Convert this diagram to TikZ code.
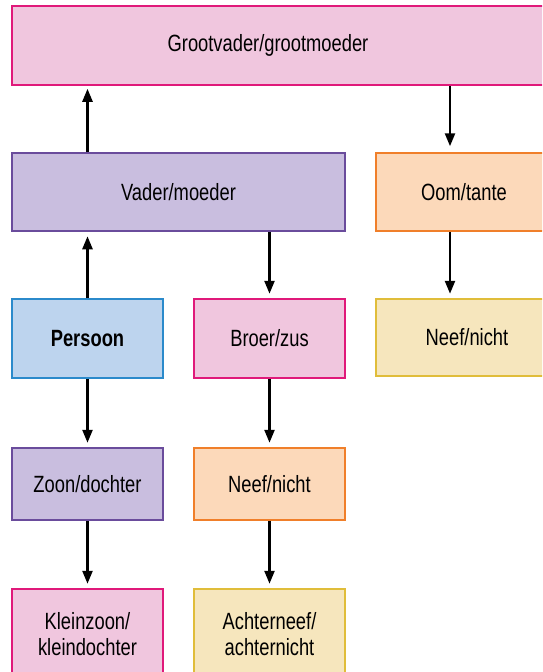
\documentclass[tikz,border=0pt]{standalone}
\usepackage{fontspec}
\setmainfont{Liberation Sans}[FakeStretch=0.78]
\usepackage{tikz}
\usepackage{xcolor}
\usetikzlibrary{arrows.meta}
\definecolor{pinkfill}{HTML}{F0C6DE}
\definecolor{pinkline}{HTML}{E0197A}
\definecolor{purplefill}{HTML}{C9BEDF}
\definecolor{purpleline}{HTML}{6A4C9C}
\definecolor{bluefill}{HTML}{BDD4EE}
\definecolor{blueline}{HTML}{2B8ACB}
\definecolor{orangefill}{HTML}{FCD9BA}
\definecolor{orangeline}{HTML}{F07F2A}
\definecolor{yellowfill}{HTML}{F6E6BD}
\definecolor{yellowline}{HTML}{E0BD3A}
\tikzset{
    family-box/.style = {rectangle, line width=1.5pt, inner sep=0pt, align=center, minimum width=151pt, minimum height=78pt, font=\fontsize{23.5}{26}\selectfont},
    pink-box/.style = {family-box, draw=pinkline, fill=pinkfill},
    purple-box/.style = {family-box, draw=purpleline, fill=purplefill},
    blue-box/.style = {family-box, draw=blueline, fill=bluefill},
    orange-box/.style = {family-box, draw=orangeline, fill=orangefill},
    yellow-box/.style = {family-box, draw=yellowline, fill=yellowfill},
    link/.style = {line width=2.4pt, -{Triangle[length=13pt, width=10pt]}, shorten >=4.5pt},
}
\begin{document}
\begin{tikzpicture}[x=1pt, y=-1pt]
\useasboundingbox (0,0) rectangle (542,672);
\clip (0,0) rectangle (542,672);
\node[pink-box, minimum width=540pt, minimum height=79pt] (groot) at (282,45.5) {\makebox[512pt]{Grootvader/grootmoeder}\hspace{28pt}};
\node[purple-box, minimum width=333pt] (vader) at (178.5,192) {Vader/moeder};
\node[orange-box, minimum width=176pt] (oom) at (464,192) {Oom/tante};
\node[blue-box, minimum height=79pt] (persoon) at (87.5,338.5) {\bfseries Persoon};
\node[pink-box, minimum height=79pt] (broer) at (269.5,338.5) {Broer/zus};
\node[yellow-box, minimum width=182pt, minimum height=77pt] (neef-oom) at (467,337.5) {Neef/nicht};
\node[purple-box, minimum height=72pt] (zoon) at (87.5,484) {Zoon/dochter};
\node[orange-box, minimum height=72pt] (neef-broer) at (269.5,484) {Neef/nicht};
\node[pink-box, minimum height=91pt] (klein) at (87.5,634.5) {Kleinzoon/\\kleindochter};
\node[yellow-box, minimum height=91pt] (achter) at (269.5,634.5) {Achterneef/\\achternicht};
\coordinate (oom-line) at (450,0);
% arrows
\draw[link] (persoon.north) -- (vader.south -| persoon.north);
\draw[link, shorten >=3pt] (vader.north -| persoon.north) -- (groot.south -| persoon.north);
\draw[link, shorten >=6pt] (groot.south -| oom-line) -- (oom.north -| oom-line);
\draw[link] (vader.south -| broer.north) -- (broer.north);
\draw[link] (oom.south -| oom-line) -- (neef-oom.north -| oom-line);
\draw[link] (persoon.south) -- (zoon.north);
\draw[link] (broer.south) -- (neef-broer.north);
\draw[link] (zoon.south) -- (klein.north);
\draw[link] (neef-broer.south) -- (achter.north);
\end{tikzpicture}
\end{document}
